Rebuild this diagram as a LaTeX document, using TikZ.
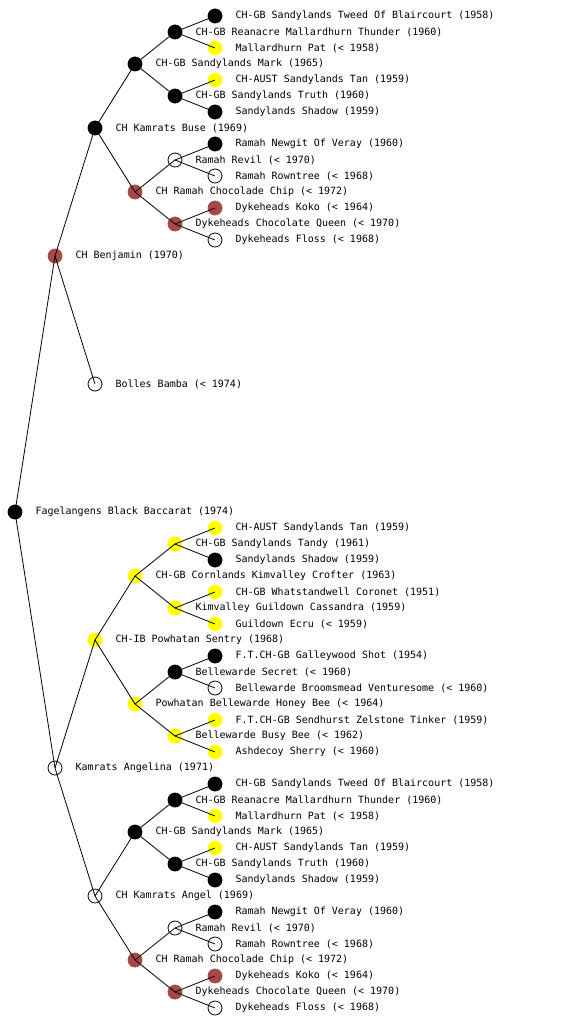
\documentclass[tikz,border=0pt]{standalone}
\usepackage{fontspec}
\setmonofont{DejaVu Sans Mono}
\usetikzlibrary{positioning}
\definecolor{dogblack}{HTML}{000000}
\definecolor{dogyellow}{HTML}{FFFF00}
\definecolor{dogbrown}{HTML}{A64848}

\begin{document}
\begin{tikzpicture}[x=1pt,y=-1pt,font=\ttfamily\fontsize{10}{12}\selectfont,
  label distance=13pt,every label/.style={inner sep=0pt,font=\ttfamily\fontsize{10}{12}\selectfont}]
\tikzset{dog/.style={circle,inner sep=0pt,minimum size=14pt,line width=0.8pt},
  nblack/.style={dog,draw=dogblack,fill=dogblack},
  nyellow/.style={dog,draw=dogyellow,fill=dogyellow},
  nbrown/.style={dog,draw=dogbrown,fill=dogbrown},
  nwhite/.style={dog,draw=black},
  edge/.style={line width=0.8pt}}
\useasboundingbox (0,0) rectangle (560,1024);
% sire side
\node[nblack] (sssss) at (215,16) [label=right:{CH-GB Sandylands Tweed Of Blaircourt (1958)}] {};
\node[nblack] (ssss) at (175,32) [label=right:{CH-GB Reanacre Mallardhurn Thunder (1960)}] {};
\node[nyellow] (ssssd) at (215,48) [label=right:{Mallardhurn Pat (< 1958)}] {};
\node[nblack] (sss) at (135,64) [label=right:{CH-GB Sandylands Mark (1965)}] {};
\node[nyellow] (sssds) at (215,80) [label=right:{CH-AUST Sandylands Tan (1959)}] {};
\node[nblack] (sssd) at (175,96) [label=right:{CH-GB Sandylands Truth (1960)}] {};
\node[nblack] (sssdd) at (215,112) [label=right:{Sandylands Shadow (1959)}] {};
\node[nblack] (ss) at (95,128) [label=right:{CH Kamrats Buse (1969)}] {};
\node[nblack] (ssdss) at (215,144) [label=right:{Ramah Newgit Of Veray (1960)}] {};
\node[nwhite] (ssds) at (175,160) [label=right:{Ramah Revil (< 1970)}] {};
\node[nwhite] (ssdsd) at (215,176) [label=right:{Ramah Rowntree (< 1968)}] {};
\node[nbrown] (ssd) at (135,192) [label=right:{CH Ramah Chocolade Chip (< 1972)}] {};
\node[nbrown] (ssdds) at (215,208) [label=right:{Dykeheads Koko (< 1964)}] {};
\node[nbrown] (ssdd) at (175,224) [label=right:{Dykeheads Chocolate Queen (< 1970)}] {};
\node[nwhite] (ssddd) at (215,240) [label=right:{Dykeheads Floss (< 1968)}] {};
\node[nbrown] (s) at (55,256) [label=right:{CH Benjamin (1970)}] {};
\node[nwhite] (sd) at (95,384) [label=right:{Bolles Bamba (< 1974)}] {};
\node[nblack] (r) at (15,512) [label=right:{Fagelangens Black Baccarat (1974)}] {};
% dam side
\node[nyellow] (dssss) at (215,528) [label=right:{CH-AUST Sandylands Tan (1959)}] {};
\node[nyellow] (dsss) at (175,544) [label=right:{CH-GB Sandylands Tandy (1961)}] {};
\node[nblack] (dsssd) at (215,560) [label=right:{Sandylands Shadow (1959)}] {};
\node[nyellow] (dss) at (135,576) [label=right:{CH-GB Cornlands Kimvalley Crofter (1963)}] {};
\node[nyellow] (dssds) at (215,592) [label=right:{CH-GB Whatstandwell Coronet (1951)}] {};
\node[nyellow] (dssd) at (175,608) [label=right:{Kimvalley Guildown Cassandra (1959)}] {};
\node[nyellow] (dssdd) at (215,624) [label=right:{Guildown Ecru (< 1959)}] {};
\node[nyellow] (ds) at (95,640) [label=right:{CH-IB Powhatan Sentry (1968)}] {};
\node[nblack] (dsdss) at (215,656) [label=right:{F.T.CH-GB Galleywood Shot (1954)}] {};
\node[nblack] (dsds) at (175,672) [label=right:{Bellewarde Secret (< 1960)}] {};
\node[nwhite] (dsdsd) at (215,688) [label=right:{Bellewarde Broomsmead Venturesome (< 1960)}] {};
\node[nyellow] (dsd) at (135,704) [label=right:{Powhatan Bellewarde Honey Bee (< 1964)}] {};
\node[nyellow] (dsdds) at (215,720) [label=right:{F.T.CH-GB Sendhurst Zelstone Tinker (1959)}] {};
\node[nyellow] (dsdd) at (175,736) [label=right:{Bellewarde Busy Bee (< 1962)}] {};
\node[nyellow] (dsddd) at (215,752) [label=right:{Ashdecoy Sherry (< 1960)}] {};
\node[nwhite] (d) at (55,768) [label=right:{Kamrats Angelina (1971)}] {};
\node[nblack] (ddsss) at (215,784) [label=right:{CH-GB Sandylands Tweed Of Blaircourt (1958)}] {};
\node[nblack] (ddss) at (175,800) [label=right:{CH-GB Reanacre Mallardhurn Thunder (1960)}] {};
\node[nyellow] (ddssd) at (215,816) [label=right:{Mallardhurn Pat (< 1958)}] {};
\node[nblack] (dds) at (135,832) [label=right:{CH-GB Sandylands Mark (1965)}] {};
\node[nyellow] (ddsds) at (215,848) [label=right:{CH-AUST Sandylands Tan (1959)}] {};
\node[nblack] (ddsd) at (175,864) [label=right:{CH-GB Sandylands Truth (1960)}] {};
\node[nblack] (ddsdd) at (215,880) [label=right:{Sandylands Shadow (1959)}] {};
\node[nwhite] (dd) at (95,896) [label=right:{CH Kamrats Angel (1969)}] {};
\node[nblack] (dddss) at (215,912) [label=right:{Ramah Newgit Of Veray (1960)}] {};
\node[nwhite] (ddds) at (175,928) [label=right:{Ramah Revil (< 1970)}] {};
\node[nwhite] (dddsd) at (215,944) [label=right:{Ramah Rowntree (< 1968)}] {};
\node[nbrown] (ddd) at (135,960) [label=right:{CH Ramah Chocolade Chip (< 1972)}] {};
\node[nbrown] (dddds) at (215,976) [label=right:{Dykeheads Koko (< 1964)}] {};
\node[nbrown] (dddd) at (175,992) [label=right:{Dykeheads Chocolate Queen (< 1970)}] {};
\node[nwhite] (ddddd) at (215,1008) [label=right:{Dykeheads Floss (< 1968)}] {};
% parent links
\foreach \a/\b in {r/s,r/d,s/ss,s/sd,ss/sss,ss/ssd,sss/ssss,sss/sssd,ssss/sssss,ssss/ssssd,
  sssd/sssds,sssd/sssdd,ssd/ssds,ssd/ssdd,ssds/ssdss,ssds/ssdsd,ssdd/ssdds,ssdd/ssddd,
  d/ds,d/dd,ds/dss,ds/dsd,dss/dsss,dss/dssd,dsss/dssss,dsss/dsssd,dssd/dssds,dssd/dssdd,
  dsd/dsds,dsd/dsdd,dsds/dsdss,dsds/dsdsd,dsdd/dsdds,dsdd/dsddd,
  dd/dds,dd/ddd,dds/ddss,dds/ddsd,ddss/ddsss,ddss/ddssd,ddsd/ddsds,ddsd/ddsdd,
  ddd/ddds,ddd/dddd,ddds/dddss,ddds/dddsd,dddd/dddds,dddd/ddddd}
  \draw[edge] (\a.center)--(\b.center);
\end{tikzpicture}
\end{document}
